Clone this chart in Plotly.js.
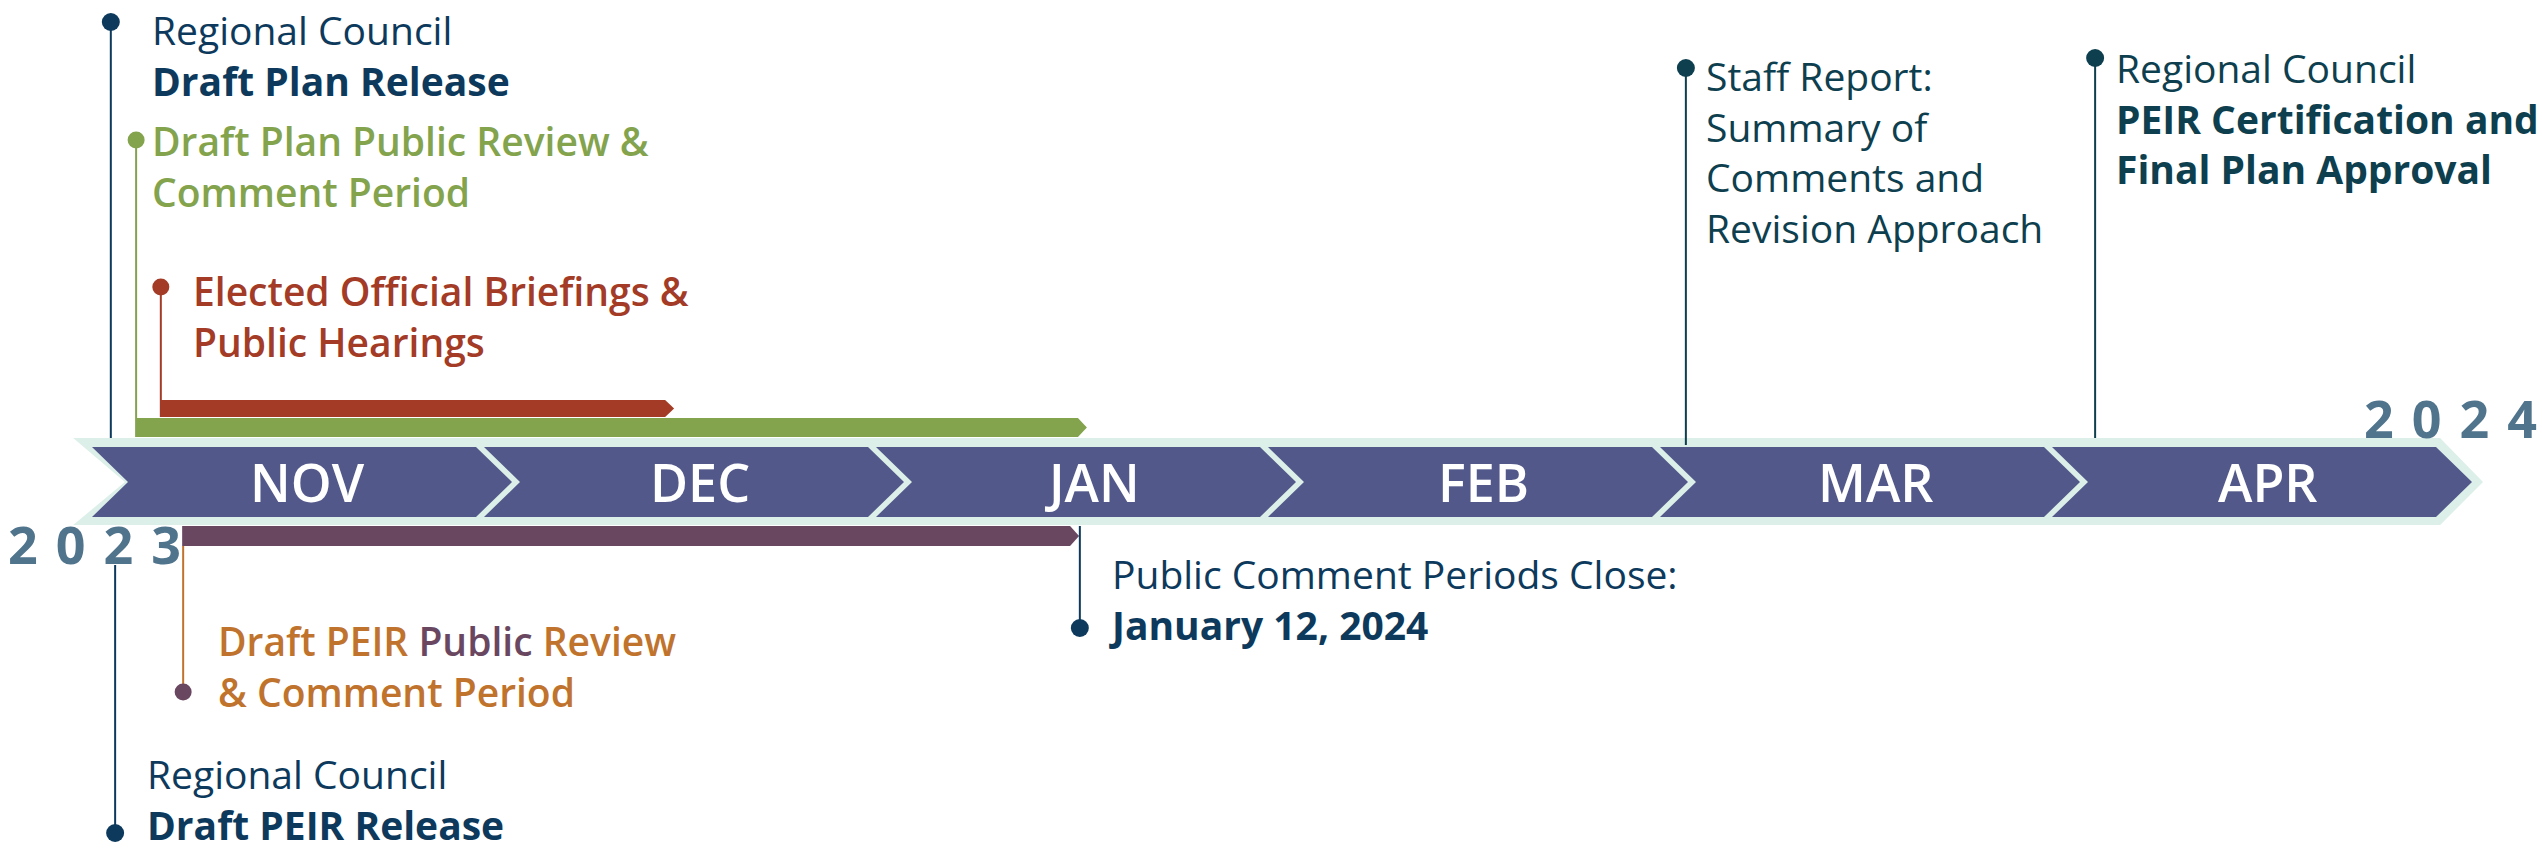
<!DOCTYPE html>
<html>
<head>
<meta charset="utf-8">
<script src="https://cdn.plot.ly/plotly-3.0.1.min.js"></script>
<style>
html,body{margin:0;padding:0;background:#ffffff;}
#chart{width:2542px;height:851px;}
</style>
</head>
<body>
<div id="chart"></div>
<script>
// ---------------- DATA (positions in months since 1 Nov 2023) ----------------
const months = ['NOV', 'DEC', 'JAN', 'FEB', 'MAR', 'APR'];
const yearLabels = ['2023', '2024'];
const yearAt = [0, 6];

const periodNames = [
  'Draft Plan Public Review & Comment Period',
  'Elected Official Briefings & Public Hearings',
  'Draft PEIR Public Review & Comment Period'
];
const periodStart = [0.110, 0.173, 0.230];
const periodEnd   = [2.538, 1.485, 2.518];

const milestoneNames = [
  'Draft Plan Release',
  'Draft PEIR Release',
  'Public Comment Periods Close',
  'Staff Report',
  'PEIR Certification and Final Plan Approval'
];
const milestoneAt = [0.048, 0.059, 2.520, 4.066, 5.110];

// ---------------- STYLE ----------------
const C = {
  band: '#52588a', rim: '#dcefe9', navy: '#0d3a5c', teal: '#0e3f4f',
  green: '#83a34d', red: '#a33b26', plum: '#6a4760', orange: '#c0732d', year: '#50748c'
};
const PX = 392;               // pixels per month
const X0 = 92;                // pixel of month 0
const W = 2542, H = 851;
const FONT = '"Open Sans", "Noto Sans", sans-serif';
const TXT = 39;

// period bar lanes (y units = px above band centre)
const periodStyle = [
  {color: C.green, top: 64, bot: 45, dotY: 342, lineColor: C.green, dotColor: C.green},
  {color: C.red,   top: 82, bot: 65, dotY: 195, lineColor: C.red,   dotColor: C.red},
  {color: C.plum,  top: -44, bot: -64, dotY: -210, lineColor: C.orange, dotColor: C.plum}
];
const milestoneStyle = [
  {from: 44,  dotY: 460,  color: C.navy},
  {from: -83, dotY: -351, color: C.navy},
  {from: -44, dotY: -146, color: C.navy},
  {from: 37,  dotY: 414,  color: C.teal},
  {from: 44,  dotY: 424,  color: C.teal}
];

const traces = [];
const n = months.length;

// light rim chevron behind the month segments
traces.push({
  x: [-0.048, n - 0.01, n + 0.0995, n - 0.01, -0.048, 0.084, -0.048],
  y: [44, 44, 0, -43, -43, 0, 44],
  mode: 'lines', fill: 'toself', fillcolor: C.rim, line: {width: 0}, hoverinfo: 'skip'
});

// month chevron segments
const segW = 384 / PX, tip = 36 / PX;
months.forEach((m, i) => {
  traces.push({
    x: [i, i + segW, i + segW + tip, i + segW, i, i + tip, i],
    y: [35, 35, 0, -35, -35, 0, 35],
    mode: 'lines', fill: 'toself', fillcolor: C.band, line: {width: 0}, hoverinfo: 'skip'
  });
});

// period bars with arrow tips + their marker lines and dots
const arrowTip = 9 / PX;
periodNames.forEach((name, k) => {
  const s = periodStyle[k];
  const a = periodStart[k], b = periodEnd[k];
  const mid = (s.top + s.bot) / 2;
  traces.push({
    x: [a, b - arrowTip, b, b - arrowTip, a, a],
    y: [s.top, s.top, mid, s.bot, s.bot, s.top],
    mode: 'lines', fill: 'toself', fillcolor: s.color, line: {width: 0}, hoverinfo: 'skip', name: name
  });
  const edge = s.dotY > 0 ? s.top : s.bot;
  traces.push({
    x: [a + 1 / PX, a + 1 / PX], y: [edge, s.dotY],
    mode: 'lines', line: {color: s.lineColor, width: 2}, hoverinfo: 'skip'
  });
  traces.push({
    x: [a + 1 / PX], y: [s.dotY], mode: 'markers',
    marker: {color: s.dotColor, size: 17}, hoverinfo: 'skip'
  });
});

// milestones
milestoneNames.forEach((name, k) => {
  const s = milestoneStyle[k];
  traces.push({
    x: [milestoneAt[k], milestoneAt[k]], y: [s.from, s.dotY],
    mode: 'lines', line: {color: s.color, width: 2}, hoverinfo: 'skip', name: name
  });
  traces.push({
    x: [milestoneAt[k]], y: [s.dotY], mode: 'markers',
    marker: {color: s.color, size: 18}, hoverinfo: 'skip'
  });
});

// ---------------- TEXT ----------------
const ann = [];
function label(x, xshift, ytop, yshift, text, color, weight) {
  ann.push({
    x: x, y: ytop, xref: 'x', yref: 'y', xanchor: 'left', yanchor: 'top',
    xshift: xshift, yshift: yshift, text: text, showarrow: false, align: 'left',
    font: {family: FONT, size: TXT, color: color, weight: weight || 400}
  });
}
label(milestoneAt[0], 39, 480, 1, 'Regional Council<br><b>' + milestoneNames[0] + '</b>', C.navy);
label(periodStart[0], 15, 370, 0, 'Draft Plan Public Review &<br>Comment Period', C.green, 600);
label(periodStart[1], 31, 220, 0, 'Elected Official Briefings &<br>Public Hearings', C.red, 600);
label(periodStart[2], 34, -130, 0,
  'Draft PEIR <span style="color:' + C.plum + '">Public</span> Review<br>&amp; Comment Period', C.orange, 600);
label(milestoneAt[1], 30, -270, 7, 'Regional Council<br><b>' + milestoneNames[1] + '</b>', C.navy);
label(milestoneAt[2], 27, -63, 0, milestoneNames[2] + ':<br><b>January 12, 2024</b>', C.navy);
label(milestoneAt[3], 18, 435, 0, 'Staff Report:<br>Summary of<br>Comments and<br>Revision Approach', C.teal);
label(milestoneAt[4], 19, 443, 0, 'Regional Council<br><b>PEIR Certification and</b><br><b>Final Plan Approval</b>', C.teal);

// month names
months.forEach((m, i) => {
  ann.push({
    x: i + 0.55, y: 0, xref: 'x', yref: 'y', xanchor: 'center', yanchor: 'middle', yshift: 1,
    text: m, showarrow: false,
    font: {family: FONT, size: 52, color: '#ffffff', weight: 600}
  });
});

// year labels (letter-spaced; no trailing spacing after last digit)
const yearY = [-61, 65];
const yearShift = [2, 6];
yearLabels.forEach((t, i) => {
  ann.push({
    x: yearAt[i], y: yearY[i], xref: 'x', yref: 'y', xanchor: 'center', yanchor: 'middle',
    xshift: yearShift[i],
    text: '<span style="letter-spacing:18px">' + t.slice(0, -1) + '</span>' + t.slice(-1),
    showarrow: false,
    font: {family: FONT, size: 52, color: C.year, weight: 700}
  });
});

const layout = {
  width: W, height: H,
  margin: {l: 0, r: 0, t: 0, b: 0, pad: 0},
  paper_bgcolor: '#ffffff', plot_bgcolor: '#ffffff',
  showlegend: false, hovermode: false,
  xaxis: {range: [-X0 / PX, -X0 / PX + W / PX], visible: false, fixedrange: true},
  yaxis: {range: [482 - H, 482], visible: false, fixedrange: true},
  annotations: ann
};

Plotly.newPlot('chart', traces, layout, {displayModeBar: false, staticPlot: true});
</script>
</body>
</html>
